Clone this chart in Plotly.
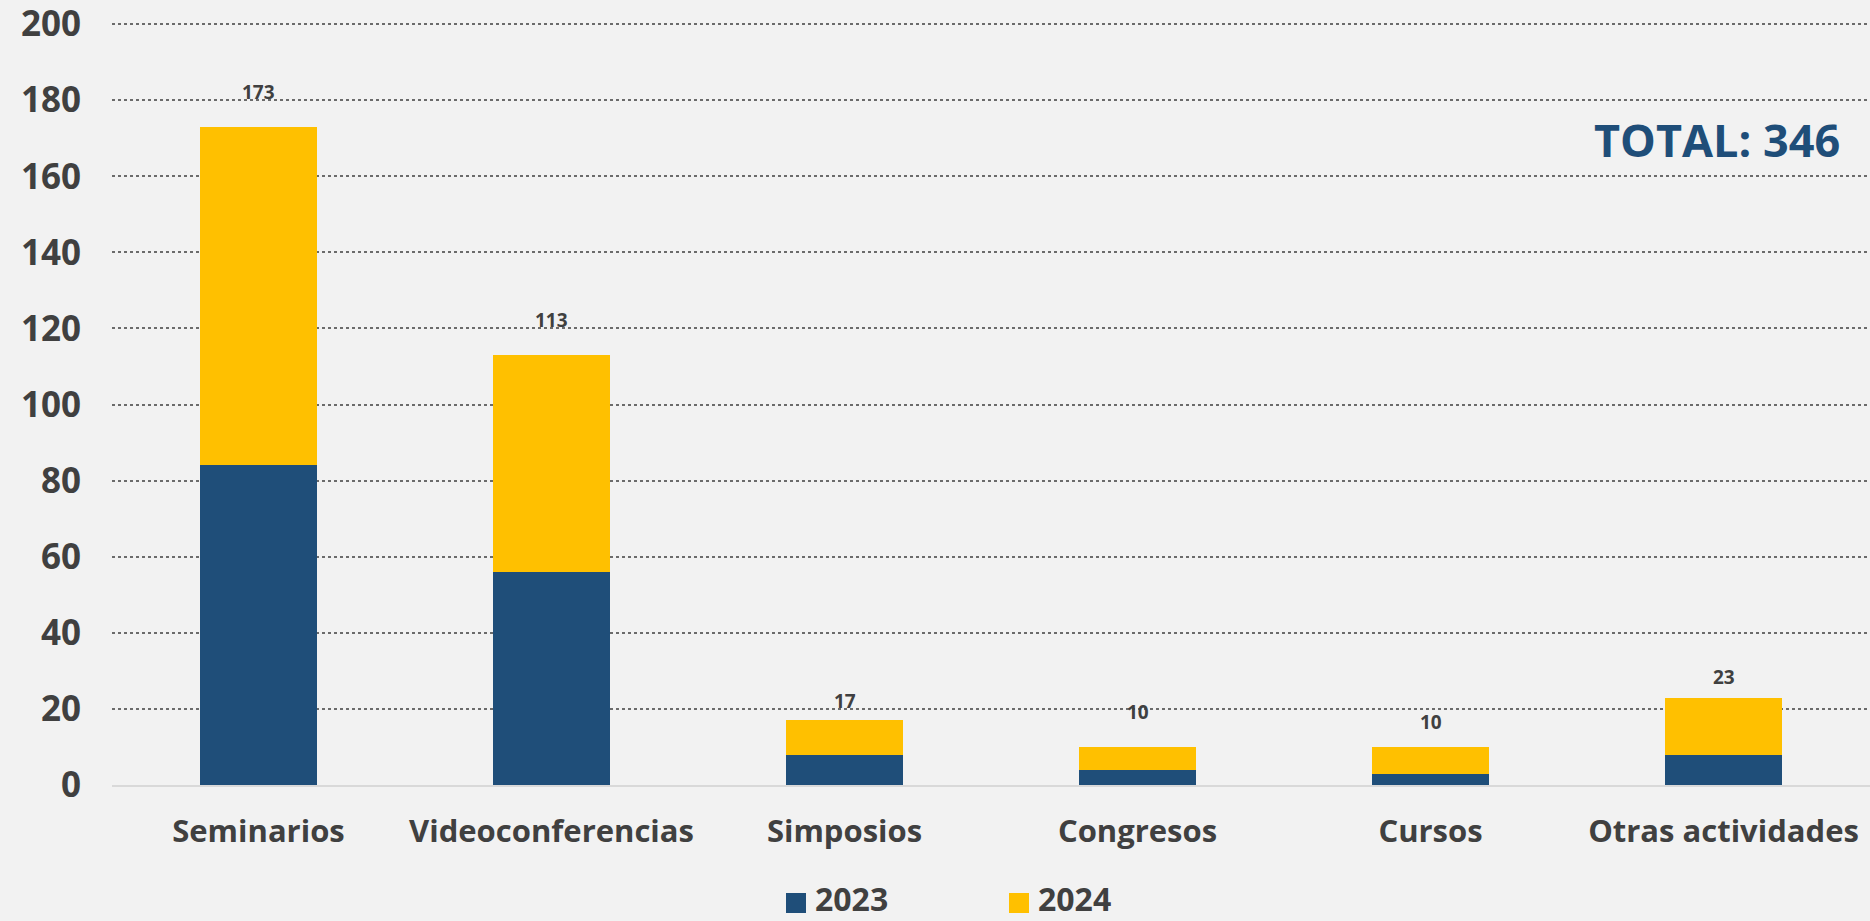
import plotly.graph_objects as go

categories = ["Seminarios", "Videoconferencias", "Simposios", "Congresos", "Cursos", "Otras actividades"]
values_2023 = [84, 56, 8, 4, 3, 8]
values_2024 = [89, 57, 9, 6, 7, 15]
totals = [a + b for a, b in zip(values_2023, values_2024)]
grand_total = sum(totals)
y_ticks = [0, 20, 40, 60, 80, 100, 120, 140, 160, 180, 200]
label_offsets = [20, 20, 4, 20, 10, 6]

C2023 = "#1F4E79"
C2024 = "#FFC000"
TXT = "#404040"
BG = "#F2F2F2"
FONT = "Open Sans"

W, H = 1870, 921
L, R, T, B = 112, 0, 23, 136
pw = W - L - R
ph = H - T - B

fig = go.Figure()
fig.add_trace(go.Bar(x=categories, y=values_2023, name="2023", marker=dict(color=C2023, line=dict(width=0))))
fig.add_trace(go.Bar(x=categories, y=values_2024, name="2024", marker=dict(color=C2024, line=dict(width=0))))

for c, t, off in zip(categories, totals, label_offsets):
    fig.add_annotation(x=c, y=t, text=str(t), showarrow=False, yanchor="bottom", yshift=off,
                       font=dict(family=FONT, size=19, color=TXT, weight="bold"))

fig.add_annotation(xref="paper", yref="paper", x=(1717 - L) / pw, y=(785 - 140) / ph,
                   text=f"TOTAL: {grand_total}", showarrow=False, xanchor="center", yanchor="middle",
                   font=dict(family=FONT, size=45, color=C2023, weight="bold"))

# custom legend
def px_x(x):
    return (x - L) / pw

def px_y(y):
    return (H - B - y) / ph

for name, col, sx in [("2023", C2023, 786), ("2024", C2024, 1009)]:
    fig.add_shape(type="rect", xref="paper", yref="paper", x0=px_x(sx), x1=px_x(sx + 20),
                  y0=px_y(913), y1=px_y(893), fillcolor=col, line=dict(width=0))
    fig.add_annotation(xref="paper", yref="paper", x=px_x(sx + 27), y=px_y(898), text=name,
                       showarrow=False, xanchor="left", yanchor="middle",
                       font=dict(family=FONT, size=32, color=TXT, weight="bold"))

fig.update_layout(
    width=W, height=H,
    barmode="stack", bargap=0.6,
    paper_bgcolor=BG, plot_bgcolor=BG,
    margin=dict(l=L, r=R, t=T, b=B),
    showlegend=False,
    font=dict(family=FONT, color=TXT),
)
fig.update_yaxes(range=[0, 200.3], tickvals=y_ticks, showgrid=True, gridcolor="#6b6b6b", griddash="dot",
                 gridwidth=1.5, zeroline=False, showline=False, ticklabeloverflow="allow",
                 tickfont=dict(family=FONT, size=35, color=TXT, weight="bold"), ticklabelstandoff=30)
fig.update_xaxes(showgrid=False, showline=True, linecolor="#D9D9D9", linewidth=2,
                 tickfont=dict(family=FONT, size=31, color=TXT, weight="bold"), ticks="",
                 ticklabelstandoff=18)

fig.write_html("out.html", config={"displayModeBar": False},
               post_script="document.body.style.margin='0';document.body.style.background='#F2F2F2';")
